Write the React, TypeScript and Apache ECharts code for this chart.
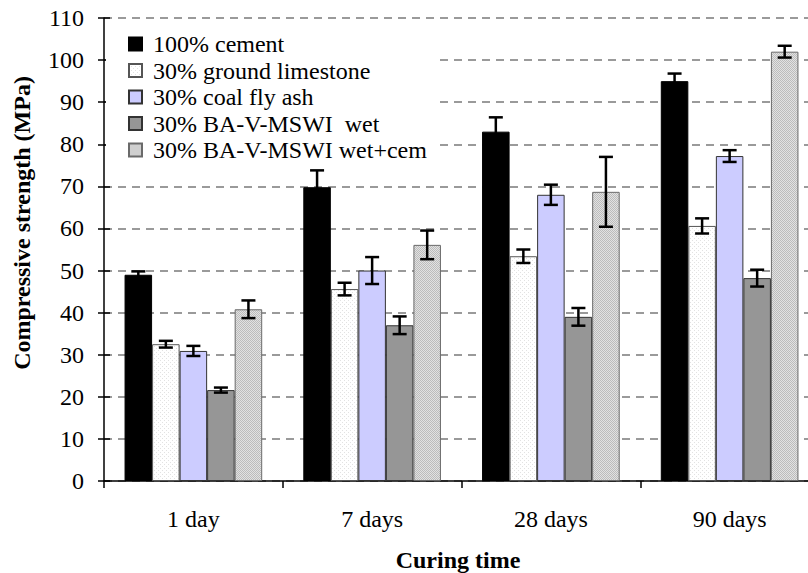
import React, { useEffect, useRef } from "react";
import * as echarts from "echarts";

const categories = ["1 day", "7 days", "28 days", "90 days"];
const seriesNames = [
  "100% cement",
  "30% ground limestone",
  "30% coal fly ash",
  "30% BA-V-MSWI  wet",
  "30% BA-V-MSWI wet+cem",
];
const cement = [49, 69.8, 83, 95];
const limestone = [32.5, 45.6, 53.4, 60.6];
const coalFlyAsh = [30.9, 50, 68, 77.2];
const baWet = [21.6, 37, 39, 48.2];
const baWetCem = [40.8, 56.1, 68.7, 102];

const cementErr = [0.8, 4, 3.4, 1.8];
const limestoneErr = [0.8, 1.5, 1.6, 1.8];
const coalFlyAshErr = [1.2, 3.2, 2.4, 1.4];
const baWetErr = [0.6, 2.1, 2.1, 2];
const baWetCemErr = [2.1, 3.4, 8.3, 1.4];

const yTicks = [0, 10, 20, 30, 40, 50, 60, 70, 80, 90, 100, 110];

const FONT = "Liberation Serif, Times New Roman, serif";

function makePattern(bg: string, fg: string, size: number, cells: number[][]) {
  const c = document.createElement("canvas");
  c.width = size;
  c.height = size;
  const ctx = c.getContext("2d")!;
  ctx.fillStyle = bg;
  ctx.fillRect(0, 0, size, size);
  ctx.fillStyle = fg;
  cells.forEach(([x, y]) => ctx.fillRect(x, y, 1, 1));
  return { image: c, repeat: "repeat" } as any;
}

export default function App() {
  const ref = useRef<HTMLDivElement>(null);

  useEffect(() => {
    if (!ref.current) return;
    const chart = echarts.init(ref.current, undefined, { renderer: "svg" });

    const limePattern = makePattern("#ffffff", "#e2e2e2", 4, [
      [0, 0],
      [2, 2],
    ]);
    const cemPattern = makePattern("#e2e2e2", "#bcbcbc", 2, [
      [0, 0],
      [1, 1],
    ]);

    const values = [cement, limestone, coalFlyAsh, baWet, baWetCem];
    const errs = [cementErr, limestoneErr, coalFlyAshErr, baWetErr, baWetCemErr];
    const colors: any[] = ["#000000", limePattern, "#ccccff", "#969696", cemPattern];
    const borders = ["#000000", "#555555", "#333333", "#333333", "#6a6a6a"];

    const gapRatio = 0.23;
    const nSeries = seriesNames.length;

    const errData: number[][] = [];
    values.forEach((arr, si) =>
      arr.forEach((v, ci) => errData.push([ci, si, v, errs[si][ci]]))
    );

    const barSeries = seriesNames.map((name, si) => ({
      name,
      type: "bar",
      data: values[si],
      barGap: "0%",
      barCategoryGap: "23%",
      itemStyle: {
        color: colors[si],
        borderColor: borders[si],
        borderWidth: 1,
      },
      z: 2,
    }));

    const option: any = {
      animation: false,
      backgroundColor: "#ffffff",
      textStyle: { fontFamily: FONT },
      grid: {
        left: 104,
        right: -11,
        top: 18,
        bottom: 92,
        containLabel: false,
        outerBoundsMode: "none",
      },
      legend: {
        orient: "vertical",
        left: 106,
        top: 24,
        padding: [8, 12, 8, 22],
        backgroundColor: "#ffffff",
        itemWidth: 13,
        itemHeight: 13,
        itemGap: 2.5,
        icon: "rect",
        data: seriesNames,
        textStyle: {
          fontFamily: FONT,
          fontSize: 24,
          lineHeight: 24,
          color: "#000",
          padding: [0, 0, 0, 6],
        },
        z: 5,
      },
      xAxis: {
        type: "category",
        data: categories,
        boundaryGap: true,
        axisLine: { show: true, lineStyle: { color: "#000", width: 1.5 } },
        axisTick: { show: true, length: 7, lineStyle: { color: "#000", width: 1.5 } },
        axisLabel: { fontFamily: FONT, fontSize: 24, color: "#000", margin: 26 },
        splitLine: { show: false },
      },
      yAxis: [
        {
          type: "value",
          min: yTicks[0],
          max: yTicks[yTicks.length - 1],
          interval: 10,
          axisLine: { show: true, lineStyle: { color: "#000", width: 1.5 } },
          axisTick: { show: true, length: 6, lineStyle: { color: "#000", width: 1.5 } },
          axisLabel: { fontFamily: FONT, fontSize: 24, color: "#000", margin: 20 },
          splitLine: {
            show: true,
            lineStyle: { color: "#7a7a7a", width: 1.5, type: [8, 6] },
          },
        },
        {
          type: "value",
          position: "left",
          min: yTicks[0],
          max: yTicks[yTicks.length - 1],
          interval: 10,
          axisLine: { show: false },
          axisTick: { show: true, inside: true, length: 6, lineStyle: { color: "#000", width: 1.5 } },
          axisLabel: { show: false },
          splitLine: { show: false },
        },
      ],
      graphic: [
        {
          type: "text",
          x: 22,
          y: 223,
          rotation: Math.PI / 2,
          style: {
            text: "Compressive strength (MPa)",
            fontFamily: FONT,
            fontSize: 24,
            fontWeight: "bold",
            fill: "#000",
            textAlign: "center",
            textVerticalAlign: "middle",
          },
        },
        {
          type: "text",
          x: 458,
          y: 560,
          style: {
            text: "Curing time",
            fontFamily: FONT,
            fontSize: 24,
            fontWeight: "bold",
            fill: "#000",
            textAlign: "center",
            textVerticalAlign: "middle",
          },
        },
      ],
      series: [
        ...barSeries,
        {
          type: "custom",
          name: "errors",
          silent: true,
          z: 10,
          encode: { x: 0, y: 2 },
          data: errData,
          renderItem: (params: any, api: any) => {
            const ci = api.value(0);
            const si = api.value(1);
            const v = api.value(2);
            const e = api.value(3);
            const center = api.coord([ci, v]);
            const band = api.size([1, 0])[0];
            const bw = (band * (1 - gapRatio)) / nSeries;
            const x = center[0] + (si - (nSeries - 1) / 2) * bw;
            const yTop = api.coord([ci, v + e])[1];
            const yBot = api.coord([ci, v - e])[1];
            const cap = 7;
            const st = { stroke: "#000", lineWidth: 2.5 };
            return {
              type: "group",
              children: [
                { type: "line", shape: { x1: x, y1: yTop, x2: x, y2: yBot }, style: st },
                { type: "line", shape: { x1: x - cap, y1: yTop, x2: x + cap, y2: yTop }, style: st },
                { type: "line", shape: { x1: x - cap, y1: yBot, x2: x + cap, y2: yBot }, style: st },
              ],
            };
          },
        },
      ],
    };

    chart.setOption(option);
    return () => {
      chart.dispose();
    };
  }, []);

  return (
    <div
      ref={ref}
      style={{ position: "fixed", left: 0, top: 0, width: 808, height: 573, background: "#fff" }}
    />
  );
}
